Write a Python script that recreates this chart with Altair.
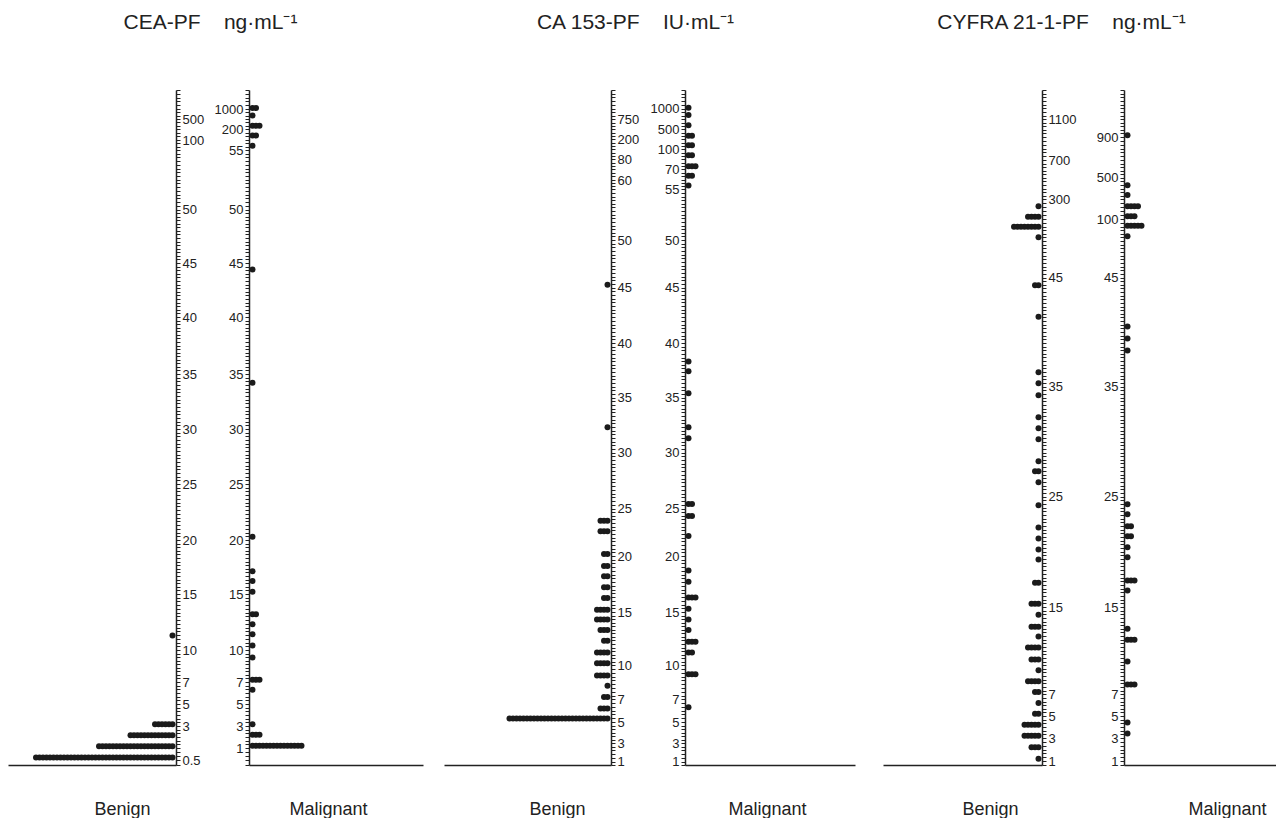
import json
import altair as alt
import pandas as pd

# ---------------- data ----------------
# CEA-PF (ng/mL)
CEA_BENIGN_VALUES = [0.6, 1.15, 2.15, 3.15, 11.3]
CEA_BENIGN_COUNTS = [40, 22, 13, 6, 1]
CEA_MALIGNANT_VALUES = [1.2, 2.2, 3.15, 6.3, 7.2, 9.3, 10.4, 11.4, 12.3, 13.2, 15.2, 16.2,
                        17.1, 20.3, 34.2, 44.4, 74, 140, 300, 670, 1100]
CEA_MALIGNANT_COUNTS = [15, 3, 1, 1, 3, 1, 1, 1, 1, 2, 1, 1, 1, 1, 1, 1, 1, 2, 3, 1, 2]

# CA 153-PF (IU/mL)
CA_BENIGN_VALUES = [5.3, 6.2, 7.2, 8.2, 9.1, 10.2, 11.2, 12.3, 13.3, 14.3, 15.2, 16.25,
                    17.2, 18.2, 19.1, 20.2, 22.6, 23.7, 32.3, 45.3]
CA_BENIGN_COUNTS = [29, 3, 2, 1, 4, 4, 4, 2, 3, 4, 4, 2, 2, 2, 2, 2, 3, 3, 1, 1]
CA_MALIGNANT_VALUES = [6.3, 9.2, 11.2, 12.2, 13.3, 14.3, 15.3, 16.3, 17.7, 18.7, 22.1, 24.2,
                       25.4, 31.3, 32.3, 35.4, 37.4, 38.3, 57, 64, 73, 88, 140, 310, 600,
                       850, 1100]
CA_MALIGNANT_COUNTS = [1, 3, 2, 3, 1, 1, 1, 3, 1, 1, 1, 2, 2, 1, 1, 1, 1, 1, 1, 2, 3, 2, 2,
                       2, 1, 1, 1]

# CYFRA 21-1-PF (ng/mL)
CYFRA_BENIGN_VALUES = [1.2, 2.2, 3.2, 4.2, 5.2, 6.2, 7.2, 8.2, 9.2, 10.2, 11.3, 12.3, 13.2,
                       14.3, 15.3, 17.2, 19.3, 20.2, 21.2, 22.2, 24.2, 26.3, 27.3, 28.2,
                       30.2, 31.2, 32.2, 34.2, 35.3, 36.3, 41.4, 44.3, 83, 93, 125, 230]
CYFRA_BENIGN_COUNTS = [1, 3, 5, 5, 2, 1, 2, 4, 1, 3, 4, 1, 3, 1, 3, 2, 1, 1, 1, 1, 1, 1, 2,
                       1, 1, 1, 1, 1, 1, 1, 1, 2, 1, 8, 4, 1]
CYFRA_MALIGNANT_VALUES = [3.4, 4.4, 7.9, 10.0, 12.0, 13.0, 16.5, 17.4, 19.5, 20.4, 21.4,
                          22.3, 23.4, 24.3, 38.3, 39.4, 40.5, 84, 94, 130, 230, 340, 430, 920]
CYFRA_MALIGNANT_COUNTS = [1, 1, 3, 1, 3, 1, 1, 3, 1, 1, 2, 2, 1, 1, 1, 1, 1, 1, 5, 3, 4, 1,
                          1, 1]

# axis tick labels
CEA_BENIGN_LABELS = [0.5, 3, 5, 7, 10, 15, 20, 25, 30, 35, 40, 45, 50, 100, 500]
CEA_MALIGNANT_LABELS = [1, 3, 5, 7, 10, 15, 20, 25, 30, 35, 40, 45, 50, 55, 200, 1000]
CA_BENIGN_LABELS = [1, 3, 5, 7, 10, 15, 20, 25, 30, 35, 40, 45, 50, 60, 80, 200, 750]
CA_MALIGNANT_LABELS = [1, 3, 5, 7, 10, 15, 20, 25, 30, 35, 40, 45, 50, 55, 70, 100, 500, 1000]
CYFRA_BENIGN_LABELS = [1, 3, 5, 7, 15, 25, 35, 45, 300, 700, 1100]
CYFRA_MALIGNANT_LABELS = [1, 3, 5, 7, 15, 25, 35, 45, 100, 500, 900]

# ---------------- broken-axis scale layout (value breakpoints -> vertical pixel) ----------------
TOP = 89
PLOT_H = 675
CEA_SCALE_VALUES = [0, 0.5, 1, 3, 5, 7, 10, 15, 20, 25, 30, 35, 40, 45, 50, 55, 100, 200, 500, 1000, 3000]
CEA_SCALE_PIX = [764, 759, 747, 725, 703, 681, 649, 593, 539, 483, 428, 373, 316, 262, 208.5, 149, 139, 128, 118, 108, 89]
CA_SCALE_VALUES = [0.6, 1, 3, 5, 7, 10, 15, 20, 25, 30, 35, 40, 45, 50, 55, 60, 70, 80, 100, 200, 500, 750, 1000, 3000]
CA_SCALE_PIX = [764, 760.5, 742, 721, 698.3, 664.3, 611, 555, 507.5, 451.5, 396.5, 342, 286.5, 239, 188.3, 179, 168.3, 158.3, 148.3, 138.3, 128.3, 118.3, 107.7, 89]
CYFRA_SCALE_VALUES = [0.7, 1, 3, 5, 7, 15, 25, 35, 45, 100, 300, 500, 700, 900, 1100, 3000]
CYFRA_SCALE_PIX = [764, 760, 737, 715, 693.3, 606, 495.5, 385.5, 276.5, 218.3, 198.3, 176.7, 159, 136, 118.3, 89]

FONT = "Liberation Sans"
DOT_PITCH = 3.5
EXT = 36


def tick_values(values, pix, step_px=3.65):
    out = []
    for v0, p0, v1, p1 in zip(values[:-1], pix[:-1], values[1:], pix[1:]):
        n = max(1, round(abs(p1 - p0) / step_px))
        for k in range(n):
            out.append(v0 + (v1 - v0) * k / n)
    out.append(values[-1])
    return out


def half(values, counts, labels, scale_values, scale_pix, benign, width, title_x):
    rows = [{"value": v, "idx": i} for v, c in zip(values, counts) for i in range(c)]
    df = pd.DataFrame(rows)
    yscale = alt.Scale(type="linear", domain=scale_values,
                       range=[p - TOP for p in scale_pix], nice=False, zero=False)
    yaxis = alt.Axis(
        orient="right" if benign else "left",
        values=tick_values(scale_values, scale_pix),
        labelExpr="indexof(%s, datum.value) >= 0 ? datum.label : ''" % json.dumps(labels),
        format="~r", title=None, grid=False,
        tickSize=4, tickColor="#222", tickWidth=1,
        domainColor="#222", domainWidth=1.5,
        labelPadding=2, labelFontSize=13, labelFont=FONT, labelColor="#222",
        labelFlush=False, labelOverlap=False, labelBound=False,
        minExtent=EXT, maxExtent=EXT,
    )
    xscale = alt.Scale(domain=[-1.0, width / DOT_PITCH - 1.0], reverse=benign,
                       nice=False, zero=False)
    xaxis = alt.Axis(
        title="Benign" if benign else "Malignant", labels=False, ticks=False, grid=False,
        domainColor="#222", domainWidth=1.5, titlePadding=35, titleFontSize=18,
        titleFont=FONT, titleFontWeight="normal", titleColor="#222",
        titleX=title_x, titleAlign="center",
    )
    return alt.Chart(df).mark_circle(size=36, color="#1b1b1b", opacity=1).encode(
        x=alt.X("idx:Q", scale=xscale, axis=xaxis),
        y=alt.Y("value:Q", scale=yscale, axis=yaxis),
    ).properties(width=width, height=PLOT_H)


def panel(title, dx, spacing, b, m):
    return alt.hconcat(b, m, spacing=spacing, title=alt.TitleParams(
        text=title, fontSize=21, font=FONT, fontWeight="normal", color="#222",
        anchor="middle", offset=51, dx=dx))


NB = "\u00a0" * 4
p1 = panel("CEA-PF" + NB + "ng·mL⁻¹", -5, 73 - 2 * EXT,
           half(CEA_BENIGN_VALUES, CEA_BENIGN_COUNTS, CEA_BENIGN_LABELS,
                CEA_SCALE_VALUES, CEA_SCALE_PIX, True, 168, 114),
           half(CEA_MALIGNANT_VALUES, CEA_MALIGNANT_COUNTS, CEA_MALIGNANT_LABELS,
                CEA_SCALE_VALUES, CEA_SCALE_PIX, False, 174, 79))
p2 = panel("CA 153-PF" + NB + "IU·mL⁻¹", -14, 74 - 2 * EXT,
           half(CA_BENIGN_VALUES, CA_BENIGN_COUNTS, CA_BENIGN_LABELS,
                CA_SCALE_VALUES, CA_SCALE_PIX, True, 167, 113),
           half(CA_MALIGNANT_VALUES, CA_MALIGNANT_COUNTS, CA_MALIGNANT_LABELS,
                CA_SCALE_VALUES, CA_SCALE_PIX, False, 170, 82))
p3 = panel("CYFRA 21-1-PF" + NB + "ng·mL⁻¹", -18, 82 - 2 * EXT,
           half(CYFRA_BENIGN_VALUES, CYFRA_BENIGN_COUNTS, CYFRA_BENIGN_LABELS,
                CYFRA_SCALE_VALUES, CYFRA_SCALE_PIX, True, 159, 107),
           half(CYFRA_MALIGNANT_VALUES, CYFRA_MALIGNANT_COUNTS, CYFRA_MALIGNANT_LABELS,
                CYFRA_SCALE_VALUES, CYFRA_SCALE_PIX, False, 152, 103))

chart = alt.hconcat(p1, alt.hconcat(p2, p3, spacing=28), spacing=21).properties(
    padding={"left": 0, "top": 4, "right": 0, "bottom": 0}, background="white"
).configure_view(stroke=None)

chart.save("out.html", embed_options={"renderer": "svg", "actions": False})
